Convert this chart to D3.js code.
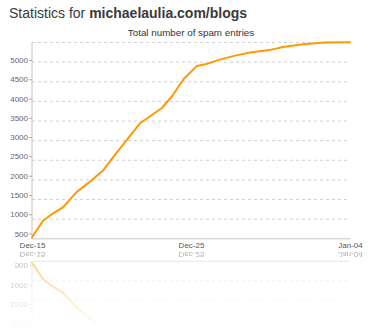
<!DOCTYPE html>
<html>
<head>
<meta charset="utf-8">
<script src="https://cdn.jsdelivr.net/npm/d3@7"></script>
<style>
  html, body { margin: 0; padding: 0; background: #fff; }
  svg { display: block; }
</style>
</head>
<body>
<svg id="chart" width="370" height="333"></svg>
<script>
// ---- data ----
const timestamps = [
  "2008-12-15T00:00", "2008-12-15T17:00", "2008-12-16T08:00", "2008-12-16T23:00",
  "2008-12-17T19:00", "2008-12-18T13:00", "2008-12-19T12:00", "2008-12-20T03:00",
  "2008-12-21T01:00", "2008-12-21T19:00", "2008-12-22T13:00", "2008-12-23T04:00",
  "2008-12-23T19:00", "2008-12-24T13:00", "2008-12-25T09:00", "2008-12-25T23:00",
  "2008-12-26T18:00", "2008-12-27T17:00", "2008-12-28T17:00", "2008-12-29T22:00",
  "2008-12-30T19:00", "2009-01-01T01:00", "2009-01-02T10:00", "2009-01-04T00:00"
];
const spamTotals = [
  540, 965, 1150, 1306,
  1683, 1924, 2255, 2593,
  3061, 3442, 3653, 3831,
  4124, 4569, 4904, 4950,
  5057, 5159, 5243, 5306,
  5383, 5454, 5497, 5505
];
const yTickValues = [500, 1000, 1500, 2000, 2500, 3000, 3500, 4000, 4500, 5000];
const reflectedYTickValues = [500, 1000, 1500, 2000];
const gridValues = [1000, 1500, 2000, 2500, 3000, 3500, 4000, 4500, 5000, 5500];
const xTickDates = ["2008-12-15T00:00", "2008-12-25T00:00", "2009-01-04T00:00"];
const xTickLabels = ["Dec-15", "Dec-25", "Jan-04"];
const titlePlain = "Statistics for ";
const titleBold = "michaelaulia.com/blogs";
const subtitle = "Total number of spam entries";

// ---- setup ----
const parse = d3.timeParse("%Y-%m-%dT%H:%M");
const data = timestamps.map((t, i) => ({ date: parse(t), value: spamTotals[i] }));
const tickDates = xTickDates.map(parse);

const svg = d3.select("#chart");
const FONT = "'Liberation Sans', Arial, Helvetica, sans-serif";

const x = d3.scaleTime().domain([tickDates[0], tickDates[2]]).range([32, 350]);
const y = d3.scaleLinear().domain([500, 5500]).range([238.8, 42.5]);
const yLabel = d3.scaleLinear().domain([500, 5000]).range([233.5, 60]);

// title
const title = svg.append("text")
  .attr("x", 9).attr("y", 17.5)
  .attr("font-family", FONT).attr("font-size", 14)
  .attr("fill", "#3a3a3a");
title.append("tspan").text(titlePlain);
title.append("tspan").attr("font-weight", "bold").text(titleBold);

function drawChart(g, reflected) {
  // subtitle (only in main chart)
  if (!reflected) {
    g.append("text")
      .attr("x", 191).attr("y", 35.5)
      .attr("text-anchor", "middle")
      .attr("font-family", FONT).attr("font-size", 9.8)
      .attr("fill", "#333")
      .text(subtitle);
  }

  // gridlines
  g.append("g").selectAll("line")
    .data(gridValues)
    .join("line")
    .attr("x1", 32).attr("x2", 350)
    .attr("y1", d => y(d)).attr("y2", d => y(d))
    .attr("stroke", "#cfcfcf")
    .attr("stroke-width", 1)
    .attr("stroke-dasharray", "3,3");

  // left axis line
  g.append("line")
    .attr("x1", 32).attr("x2", 32)
    .attr("y1", y(5500)).attr("y2", y(500))
    .attr("stroke", "#c4c4c4");

  // bottom axis line
  g.append("line")
    .attr("x1", 32).attr("x2", 350)
    .attr("y1", y(500)).attr("y2", y(500))
    .attr("stroke", "#c4c4c4");

  // y axis labels
  const yAxis = d3.axisLeft(yLabel)
    .tickValues(reflected ? reflectedYTickValues : yTickValues)
    .tickFormat(d3.format("d"))
    .tickSize(3).tickSizeOuter(0).tickPadding(1);
  const ya = g.append("g").attr("transform", "translate(32,0)").call(yAxis);
  ya.select(".domain").remove();
  ya.selectAll(".tick line").attr("stroke", "#aaa");
  ya.selectAll(".tick text")
    .attr("font-family", FONT).attr("font-size", 8)
    .attr("fill", "#666");

  // x axis labels
  const xAxis = d3.axisBottom(x)
    .tickValues(tickDates)
    .tickFormat((d, i) => xTickLabels[i])
    .tickSize(0).tickSizeOuter(0).tickPadding(4);
  const xa = g.append("g").attr("transform", `translate(0,${y(500)})`).call(xAxis);
  xa.select(".domain").remove();
  xa.selectAll(".tick text")
    .attr("font-family", FONT).attr("font-size", 8)
    .attr("fill", "#555");

  // line
  const line = d3.line().x(d => x(d.date)).y(d => y(d.value));
  g.append("path")
    .datum(data)
    .attr("d", line)
    .attr("fill", "none")
    .attr("stroke", "#ff9900")
    .attr("stroke-width", 2)
    .attr("stroke-linejoin", "round")
    .attr("stroke-linecap", "round");
}

// main chart
drawChart(svg.append("g"), false);

// reflection
const defs = svg.append("defs");
const grad = defs.append("linearGradient")
  .attr("id", "fade")
  .attr("gradientUnits", "userSpaceOnUse")
  .attr("x1", 0).attr("y1", 250).attr("x2", 0).attr("y2", 330);
grad.append("stop").attr("offset", 0).attr("stop-color", "#fff").attr("stop-opacity", 0.5);
grad.append("stop").attr("offset", 0.6).attr("stop-color", "#fff").attr("stop-opacity", 0.22);
grad.append("stop").attr("offset", 1).attr("stop-color", "#fff").attr("stop-opacity", 0);
const mask = defs.append("mask").attr("id", "reflMask")
  .attr("maskUnits", "userSpaceOnUse")
  .attr("x", 0).attr("y", 250).attr("width", 370).attr("height", 83);
mask.append("rect").attr("x", 0).attr("y", 250).attr("width", 370).attr("height", 83)
  .attr("fill", "url(#fade)");

const refl = svg.append("g").attr("mask", "url(#reflMask)")
  .append("g").attr("transform", "translate(0,500) scale(1,-1)");
drawChart(refl, true);
</script>
</body>
</html>
